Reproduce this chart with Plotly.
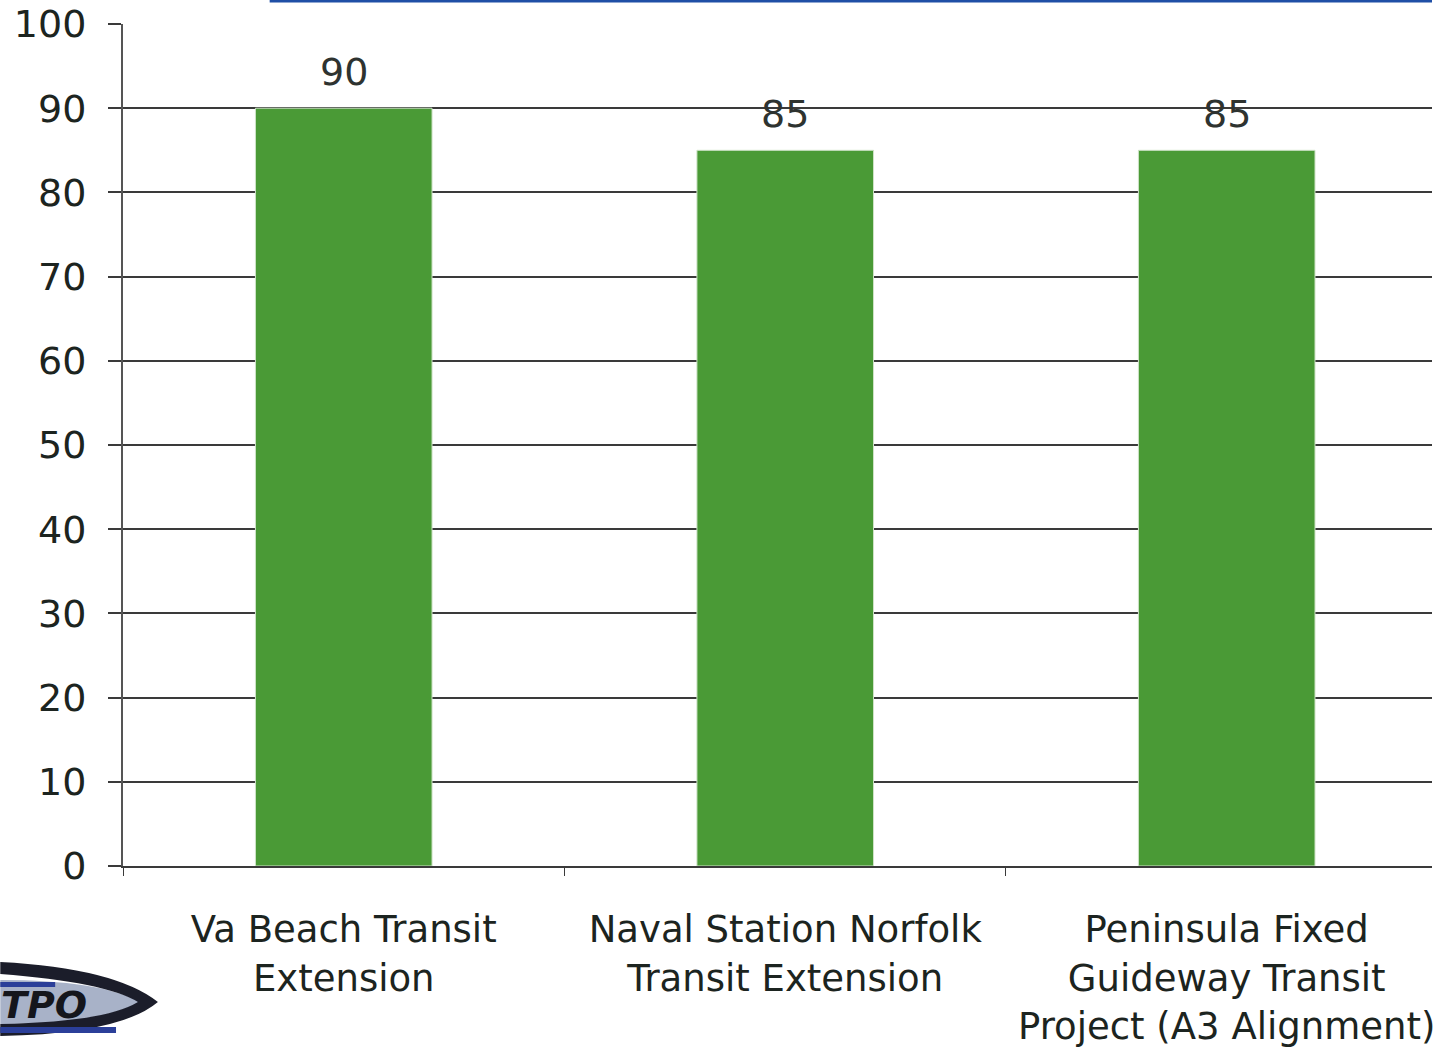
import plotly.graph_objects as go

categories = ["Va Beach Transit<br>Extension",
              "Naval Station Norfolk<br>Transit Extension",
              "Peninsula Fixed<br>Guideway Transit<br>Project (A3 Alignment)"]
values = [90, 85, 85]
y_ticks = [0, 10, 20, 30, 40, 50, 60, 70, 80, 90, 100]

FONT = "'DejaVu Sans', sans-serif"
TXT = "#1c2420"
GRID = "#3a3a3a"

# plot-area pixel geometry (for decorative shapes only)
L, T, PW, PH = 123, 24, 1312, 842


def px(x):
    return (x - L) / PW


def py(y):
    return (T + PH - y) / PH


def path(points_cmds):
    out = []
    for cmd, pts in points_cmds:
        coords = " ".join(f"{px(a):.5f},{py(b):.5f}" for a, b in pts)
        out.append(f"{cmd} {coords}".strip())
    return " ".join(out) + " Z"


fig = go.Figure()
fig.add_trace(go.Bar(
    x=categories, y=values, width=0.4,
    marker=dict(color="#4a9a36", line=dict(color="#cfe3c8", width=1)),
    hoverinfo="skip",
))

for c, v in zip(categories, values):
    fig.add_annotation(x=c, y=v, text=str(v), showarrow=False,
                       yanchor="bottom", yshift=12,
                       font=dict(family=FONT, size=38, color="#2e3330"))

fig.update_layout(
    width=1435, height=1053,
    margin=dict(l=L, r=0, t=T, b=1053 - T - PH),
    paper_bgcolor="white", plot_bgcolor="white",
    showlegend=False,
    font=dict(family=FONT, color=TXT),
    xaxis=dict(
        range=[-0.5, 2.465],
        showgrid=False,
        showline=True, linecolor=GRID, linewidth=2,
        ticks="outside", tickson="boundaries", ticklen=8,
        tickcolor=GRID, tickwidth=1,
        tickfont=dict(family=FONT, size=37, color=TXT),
        ticklabelstandoff=30,
    ),
    yaxis=dict(
        range=[0, 100],
        tickvals=y_ticks,
        showgrid=True, gridcolor=GRID, gridwidth=2,
        showline=True, linecolor="#555", linewidth=2,
        ticks="outside", ticklen=13, tickcolor=GRID, tickwidth=2,
        tickfont=dict(family=FONT, size=38, color=TXT),
        ticklabelstandoff=14,
        zeroline=False,
    ),
)

# blue header line at the very top
fig.add_shape(type="line", xref="paper", yref="paper",
              x0=px(270), x1=px(1435), y0=py(1), y1=py(1),
              line=dict(color="#1f4fa6", width=3))

# logo fragment bottom-left
fig.add_shape(type="path", xref="paper", yref="paper",
              path=path([("M", [(0, 980)]), ("Q", [(100, 980), (140, 1002)]),
                         ("Q", [(100, 1024), (0, 1024)])]),
              fillcolor="#a8b2c8", line=dict(width=0))
fig.add_shape(type="path", xref="paper", yref="paper",
              path=path([("M", [(0, 962)]), ("Q", [(115, 968), (158, 1002)]),
                         ("Q", [(120, 1034), (0, 1036)]),
                         ("L", [(0, 1024)]), ("Q", [(105, 1022), (138, 1002)]),
                         ("Q", [(105, 982), (0, 974)])]),
              fillcolor="#1b1d2a", line=dict(width=0))
fig.add_shape(type="rect", xref="paper", yref="paper",
              x0=px(0), x1=px(116), y0=py(1033), y1=py(1027),
              fillcolor="#2b3f99", line=dict(width=0))
fig.add_shape(type="rect", xref="paper", yref="paper",
              x0=px(0), x1=px(55), y0=py(987), y1=py(982),
              fillcolor="#2b3f99", line=dict(width=0))
fig.add_annotation(xref="paper", yref="paper", x=px(0), y=py(1005),
                   xanchor="left", yanchor="middle", showarrow=False,
                   text="<b><i>TPO</i></b>", borderpad=0,
                   font=dict(family="'DejaVu Sans'", size=38, color="#15161c"))

fig.write_html("out.html", config={"displayModeBar": False},
               post_script="document.body.style.margin='0';document.body.style.padding='0';")
